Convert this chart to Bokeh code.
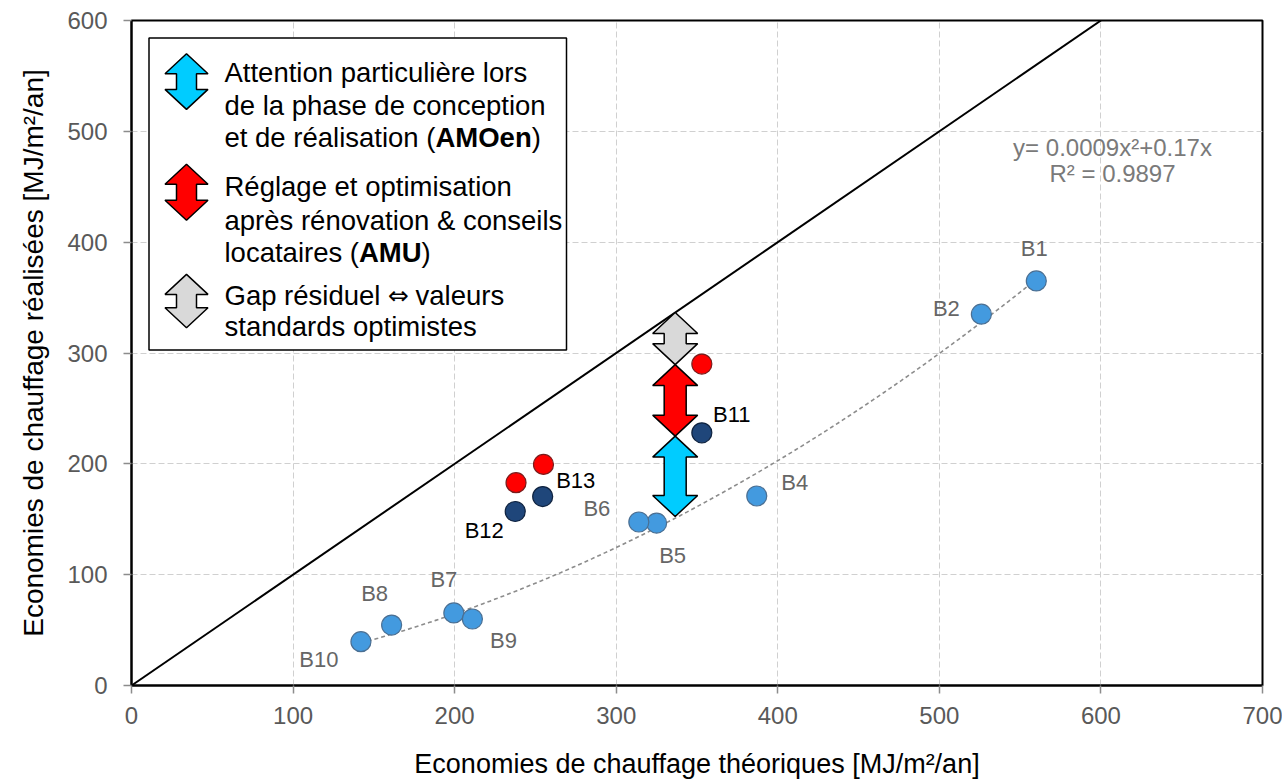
import numpy as np
from bokeh.plotting import figure
from bokeh.models import Range1d, FixedTicker
from bokeh.core.properties import value
from bokeh.embed import file_html
from bokeh.resources import INLINE

# ---------------- data ----------------
blue_names = ["B1", "B2", "B4", "B5", "B6", "B7", "B8", "B9", "B10"]
blue_theo = [560, 526, 387, 325, 314, 199.5, 161, 211, 142]
blue_real = [365, 335, 171, 146.5, 147.5, 65.5, 54.5, 60, 39.5]

navy_names = ["B11", "B12", "B13"]
navy_theo = [353, 237.5, 254.5]
navy_real = [228, 157, 170.5]

red_theo = [353, 238, 255]
red_real = [290, 183, 199.5]

gap_x = 336.5
gap_levels = [152.5, 225, 289.5, 336.5]
gap_colors = ["#00CCFF", "#FF0000", "#D9D9D9"]

diag_x = [0, 600]
diag_y = [0, 600]

x_ticks = [0, 100, 200, 300, 400, 500, 600, 700]
y_ticks = [0, 100, 200, 300, 400, 500, 600]

eq_lines = ["y= 0.0009x²+0.17x", "R² = 0.9897"]

x_title = "Economies de chauffage théoriques [MJ/m²/an]"
y_title = "Economies de chauffage réalisées [MJ/m²/an]"

# (text, style): style "r" regular, "b" bold, "s" symbol font
legend_lines = [
    [("Attention particulière lors", "r")],
    [("de la phase de conception", "r")],
    [("et de réalisation (", "r"), ("AMOen", "b"), (")", "r")],
    [("Réglage et optimisation", "r")],
    [("après rénovation & conseils", "r")],
    [("locataires (", "r"), ("AMU", "b"), (")", "r")],
    [("Gap résiduel ", "r"), ("\u21d4", "s"), (" valeurs", "r")],
    [("standards optimistes", "r")],
]

# ---------------- layout helpers (pixel -> data) ----------------
W, H = 1282, 781
FL, FT, FR, FB = 131, 20, 20, 95
FW = W - FL - FR
FH = H - FT - FB
XS = FW / 700.0
YS = FH / 600.0


def dxp(px):
    return (px - FL) / XS


def dyp(py):
    return (FT + FH - py) / YS


FONT = "Liberation Sans"

p = figure(width=W, height=H, x_range=Range1d(0, 700), y_range=Range1d(0, 600),
           output_backend="svg", toolbar_location=None,
           min_border_left=FL, min_border_right=FR, min_border_top=FT, min_border_bottom=FB)
p.background_fill_color = "white"
p.border_fill_color = "white"
p.outline_line_color = "black"
p.outline_line_width = 2

for ax in (p.xaxis, p.yaxis):
    ax.axis_line_color = "black"
    ax.axis_line_width = 2
    ax.major_tick_line_color = "#8c8c8c"
    ax.major_tick_line_width = 1.5
    ax.major_tick_out = 8
    ax.major_tick_in = 0
    ax.minor_tick_line_color = None
    ax.major_label_text_font = FONT
    ax.major_label_text_font_size = "24px"
    ax.major_label_text_color = "#595959"
    ax.axis_label_text_font = FONT
    ax.axis_label_text_font_style = "normal"
    ax.axis_label_text_color = "black"
p.xaxis.ticker = FixedTicker(ticks=x_ticks)
p.yaxis.ticker = FixedTicker(ticks=y_ticks)
p.xaxis.major_label_standoff = 13
p.yaxis.major_label_standoff = 16
p.xaxis.axis_label = x_title
p.yaxis.axis_label = y_title
p.xaxis.axis_label_text_font_size = "27px"
p.yaxis.axis_label_text_font_size = "28px"
p.xaxis.axis_label_standoff = 22
p.yaxis.axis_label_standoff = 15

for g in (p.xgrid, p.ygrid):
    g.grid_line_color = "#d0d0d0"
    g.grid_line_dash = "6 3"
    g.grid_line_width = 1

# diagonal
p.line(diag_x, diag_y, line_color="black", line_width=2)

# trendline (least squares y = a x^2 + b x on blue points)
bx = np.array(blue_theo, dtype=float)
by = np.array(blue_real, dtype=float)
A = np.column_stack([bx ** 2, bx])
coef, *_ = np.linalg.lstsq(A, by, rcond=None)
tx = np.linspace(bx.min(), bx.max(), 200)
ty = coef[0] * tx ** 2 + coef[1] * tx
p.line(tx, ty, line_color="#8c8c8c", line_width=1.6, line_dash="4 3")


def double_arrow(cx, y0, y1, hl, hw, bw):
    xs = [cx, cx + hw, cx + bw, cx + bw, cx + hw, cx, cx - hw, cx - bw, cx - bw, cx - hw]
    ys = [y1, y1 - hl, y1 - hl, y0 + hl, y0 + hl, y0, y0 + hl, y0 + hl, y1 - hl, y1 - hl]
    return xs, ys


# gap arrows in the chart
hl = 21 / YS
hw = 22.5 / XS
bw = 11 / XS
axs, ays = [], []
for i in range(3):
    xs, ys = double_arrow(gap_x, gap_levels[i], gap_levels[i + 1], hl, hw, bw)
    axs.append(xs)
    ays.append(ys)
p.patches(axs, ays, fill_color=gap_colors, line_color="black", line_width=1.5)

# points
p.scatter(blue_theo, blue_real, size=20, fill_color="#439ADF", line_color="#4a6f93", line_width=1.2)
p.scatter(navy_theo, navy_real, size=20, fill_color="#1F467A", line_color="#0e223f", line_width=1.2)
p.scatter(red_theo, red_real, size=20, fill_color="#FF0000", line_color="#7a1c1c", line_width=1.2)

# point labels
blue_dx = [-2, -35, 38, 16, -42, -10, -17, 31, -42]
blue_dy = [-32, -6, -13, 32, -14, -33, -32, 21, 18]
navy_dx = [30, -31, 33]
navy_dy = [-18, 19, -16]
p.text(blue_theo, blue_real, text=blue_names, x_offset=blue_dx, y_offset=blue_dy,
       text_align="center", text_baseline="middle", text_font=value(FONT),
       text_font_size="22px", text_color="#666666")
p.text(navy_theo, navy_real, text=navy_names, x_offset=navy_dx, y_offset=navy_dy,
       text_align="center", text_baseline="middle", text_font=value(FONT),
       text_font_size="22px", text_color="black")

# equation
eq_base = [146.7, 173.3]
p.text([dxp(1112)] * 2, [dyp(b) for b in eq_base], text=eq_lines, text_align="center",
       text_baseline="alphabetic", text_font=value(FONT), text_font_size="24px",
       text_color="#7a7a7a")

# legend box
p.quad(left=dxp(148.5), right=dxp(566), top=dyp(37.5), bottom=dyp(350),
       fill_color="white", line_color="black", line_width=1.5)

# legend icons
ihl = 20 / YS
ihw = 21.5 / XS
ibw = 10 / XS
icon_tips = [(53.3, 109), (164, 220), (274.3, 327.7)]
ixs, iys = [], []
for (t, b) in icon_tips:
    xs, ys = double_arrow(dxp(186), dyp(b), dyp(t), ihl, ihw, ibw)
    ixs.append(xs)
    iys.append(ys)
p.patches(ixs, iys, fill_color=gap_colors, line_color="black", line_width=1.5)

# legend text
REG = {'a': 556, 'c': 500, 'd': 556, 'e': 556, 'é': 556, 'i': 222, 'l': 222, 'n': 556,
       'o': 556, 'r': 333, 's': 500, 't': 278, ' ': 278, '(': 333, ')': 333, 'G': 778,
       'p': 556, 'u': 556}
BOLD = {'A': 722, 'M': 833, 'O': 778, 'e': 556, 'n': 611, 'U': 722}
SYM_W = 1.0
LFS = 27.5
baselines = [71.7, 105, 136.7, 186.7, 220, 252.7, 295, 326.7]
groups = {"r": ([], [], [], []), "b": ([], [], [], []), "s": ([], [], [], [])}
for line, base in zip(legend_lines, baselines):
    off = 0.0
    for seg, st in line:
        gx, gy, gt, go = groups[st]
        gx.append(dxp(224)); gy.append(dyp(base)); gt.append(seg); go.append(off)
        if st == "b":
            off += sum(BOLD.get(c, 600) for c in seg) / 1000 * LFS
        elif st == "s":
            off += SYM_W * LFS
        else:
            off += sum(REG.get(c, 556) for c in seg) / 1000 * LFS

gx, gy, gt, go = groups["r"]
p.text(gx, gy, text=gt, x_offset=go, text_align="left", text_baseline="alphabetic",
       text_font=value(FONT), text_font_size=f"{LFS}px", text_color="black")
gx, gy, gt, go = groups["b"]
p.text(gx, gy, text=gt, x_offset=go, text_align="left", text_baseline="alphabetic",
       text_font=value(FONT), text_font_size=f"{LFS}px", text_font_style="bold",
       text_color="black")
gx, gy, gt, go = groups["s"]
p.text(gx, gy, text=gt, x_offset=go, text_align="left", text_baseline="alphabetic",
       text_font=value("DejaVu Sans"), text_font_size="25px", text_color="black")

open("out.html", "w").write(file_html(p, INLINE))
